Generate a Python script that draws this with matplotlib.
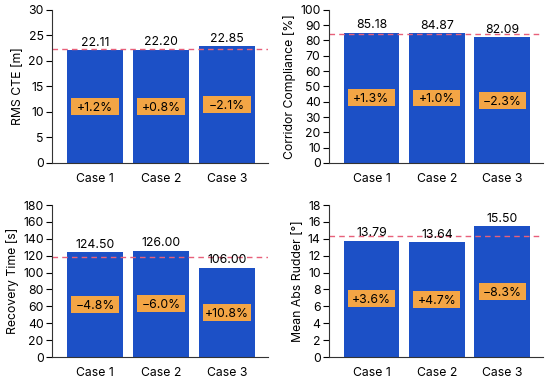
import numpy as np
import matplotlib
matplotlib.use('Agg')
import matplotlib.pyplot as plt

plt.rcParams['font.family'] = ['Inter', 'DejaVu Sans']

cases = ['Case 1', 'Case 2', 'Case 3']

cte = [22.11, 22.20, 22.85]
cte_base = 22.38
cte_pct = ['+1.2%', '+0.8%', '\u22122.1%']

compliance = [85.18, 84.87, 82.09]
compliance_base = 84.05
compliance_pct = ['+1.3%', '+1.0%', '\u22122.3%']

recovery = [124.50, 126.00, 106.00]
recovery_base = 118.8
recovery_pct = ['\u22124.8%', '\u22126.0%', '+10.8%']

rudder = [13.79, 13.64, 15.50]
rudder_base = 14.3
rudder_pct = ['+3.6%', '+4.7%', '\u22128.3%']

panels = [
    (cte, cte_base, cte_pct, 'RMS CTE [m]', 30, 5),
    (compliance, compliance_base, compliance_pct, 'Corridor Compliance [%]', 100, 10),
    (recovery, recovery_base, recovery_pct, 'Recovery Time [s]', 180, 20),
    (rudder, rudder_base, rudder_pct, 'Mean Abs Rudder [\u00b0]', 18, 2),
]

positions = [
    [0.0945, 0.570, 0.393, 0.404],
    [0.598, 0.570, 0.389, 0.404],
    [0.0945, 0.058, 0.393, 0.401],
    [0.598, 0.058, 0.389, 0.401],
]

fs = 8.8
fig = plt.figure(figsize=(5.5, 3.79), dpi=100)

for (vals, base, pct, ylabel, ymax, step), pos in zip(panels, positions):
    ax = fig.add_axes(pos)
    x = np.arange(len(cases))
    ax.bar(x, vals, width=0.85, color='#1c50c6')
    ax.axhline(base, color='#e8607a', linestyle='--', linewidth=1.0, dashes=(4, 3))
    box_h = ymax * 0.11
    mids = np.array(vals) / 2
    # orange label boxes, fixed width, centred at half bar height
    ax.bar(x, box_h, bottom=mids - box_h / 2, width=0.72, color='#f3a545')
    for xi, v, m, p in zip(x, vals, mids, pct):
        ax.text(xi, v + ymax * 0.008, f'{v:.2f}', ha='center', va='bottom', fontsize=fs)
        ax.text(xi, m, p, ha='center', va='center_baseline', fontsize=fs)
    ax.set_ylim(0, ymax)
    ax.set_yticks(np.arange(0, ymax + 1, step))
    ax.set_xlim(-0.65, 2.62)
    ax.set_xticks(x)
    ax.set_xticklabels(cases)
    ax.set_ylabel(ylabel, fontsize=fs, labelpad=3)
    ax.tick_params(axis='x', length=0, pad=7, labelsize=fs)
    ax.tick_params(axis='y', length=4, labelsize=fs, pad=2)
    for s in ['top', 'right']:
        ax.spines[s].set_visible(False)
    ax.spines['left'].set_color('#333333')
    ax.spines['bottom'].set_color('#333333')

fig.savefig('out.png', dpi=100)
